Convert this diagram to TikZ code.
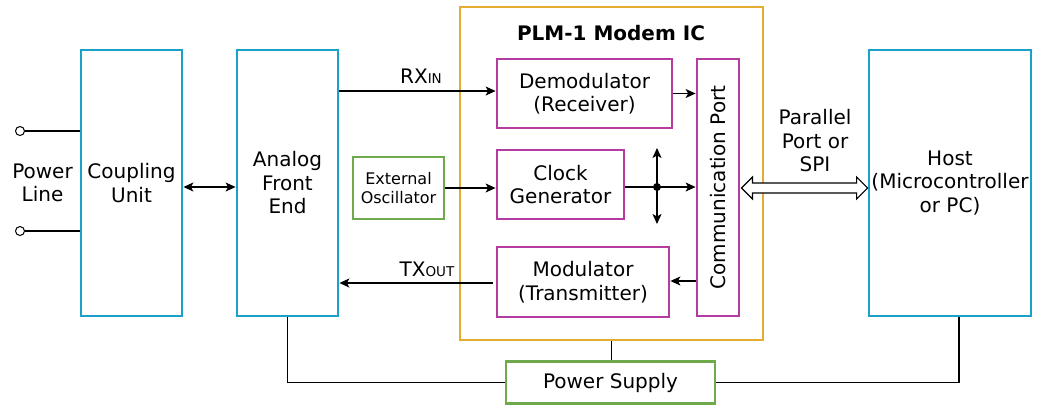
\documentclass[tikz,border=0pt]{standalone}
\usepackage{fontspec}
\setmainfont{DejaVu Sans}
\usetikzlibrary{arrows.meta,calc}
\definecolor{cblue}{RGB}{27,160,200}
\definecolor{corange}{RGB}{229,172,50}
\definecolor{cmag}{RGB}{180,60,160}
\definecolor{cgreen}{RGB}{110,170,75}
\newcommand\mainfnt{\fontsize{20}{23.5}\selectfont}
\newcommand\smallfnt{\fontsize{16}{19}\selectfont}
\newcommand\subfnt{\fontsize{13.5}{13.5}\selectfont}
\begin{document}
\begin{tikzpicture}[x=1pt,y=-1pt,
  blk/.style={draw=#1,line width=2.8pt,inner sep=0pt,align=center,font=\mainfnt},
  conn/.style={line width=1.2pt,draw=black},
  tip/.style={},
  arr/.style={conn,-{Stealth[length=10pt,width=9pt,inset=2.5pt]}},
  dblarr/.style={conn,{Stealth[length=10pt,width=9pt,inset=2.5pt]}-{Stealth[length=10pt,width=9pt,inset=2.5pt]}},
  term/.style={circle,draw,line width=1pt,minimum size=9pt,inner sep=0pt,fill=white},
  lbl/.style={font=\mainfnt,align=center,inner sep=0pt}]
\useasboundingbox (0,0) rectangle (1051,405);
% main blocks
\node[blk=cblue,minimum width=101,minimum height=266] (cu) at (131.5,183) {Coupling\\Unit};
\node[blk=cblue,minimum width=101,minimum height=266] (afe) at (287.5,183) {Analog\\Front\\End};
\node[blk=corange,minimum width=303,minimum height=333] (ic) at (611.5,173.5) {};
\node[font=\fontsize{20}{24}\selectfont\bfseries,inner sep=0pt] (title) at (611,33) {PLM-1 Modem IC};
\node[blk=cmag,minimum width=175,minimum height=69] (dem) at (584.5,93.5) {Demodulator\\(Receiver)};
\node[blk=cmag,minimum width=127,minimum height=69] (clk) at (560.5,184.5) {Clock\\Generator};
\node[blk=cmag,minimum width=172,minimum height=70] (mod) at (583,282) {Modulator\\(Transmitter)};
\node[blk=cmag,minimum width=42,minimum height=257] (cp) at (718,187.5) {\rotatebox{90}{Communication Port}};
\node[blk=cgreen,font=\smallfnt,minimum width=91,minimum height=62] (osc) at (398.5,188) {External\\Oscillator};
\node[blk=cblue,minimum width=162,minimum height=266] (host) at (950,183) {Host\\(Microcontroller\\or PC)};
\node[blk=cgreen,minimum width=209,minimum height=42] (ps) at (610.5,382.5) {Power Supply};
% power line
\node[term] (t1) at (20,131) {};
\node[term] (t2) at (20,231) {};
\draw[conn] (t1.east) -- (t1 -| cu.west);
\draw[conn] (t2.east) -- (t2 -| cu.west);
\node[lbl] (pl) at (42.5,183) {Power\\Line};
% connectors
\draw[dblarr] ([yshift=-4pt]cu.east) -- ([yshift=-4pt]afe.west);
\draw[arr] ([yshift=2.5pt]dem.west -| afe.east) -- ([yshift=2.5pt]dem.west);
\node[lbl,anchor=base] (rx) at (421,83) {RX{\subfnt IN}};
\draw[arr] (dem.east) -- (dem.east -| cp.west);
\draw[arr] (osc.east) -- (osc.east -| clk.west);
\coordinate (j) at ([yshift=-2.5pt]clk.east -| 657,0);
\coordinate (jt) at (657,148);
\coordinate (jb) at (657,224);
\draw[arr] ([yshift=-2.5pt]clk.east) -- (j -| cp.west);
\draw[dblarr] (jt) -- (jb);
\fill (j) circle (4pt);
\draw[arr] ([yshift=1pt]cp.west |- mod.east) -- ([yshift=1pt]mod.east);
\draw[arr] ([xshift=-3pt,yshift=-1pt]mod.west) -- ([yshift=-1pt]mod.west -| afe.east);
\node[lbl,anchor=base] (tx) at (427,276) {TX{\subfnt OUT}};
% parallel port hollow double arrow
\coordinate (pa) at ([xshift=1pt,yshift=-0.5pt]cp.east);
\coordinate (pb) at ([yshift=-0.5pt]cp.east -| host.west);
\draw[line width=1.2pt,fill=white] (pa) -- ++(11,-11) -- ++(0,6) -- ($(pb)+(-11,-5)$) -- ++(0,-6) -- (pb) -- ++(-11,11) -- ++(0,-6) -- ($(pa)+(11,5)$) -- ++(0,6) -- cycle;
\node[lbl] (pp) at (815,141) {Parallel\\Port or\\SPI};
% power supply
\draw[conn] (afe.south) |- (ps.west);
\draw[conn] (ic.south) -- (ic.south |- ps.north);
\draw[conn] (ps.east) -| ([xshift=9pt]host.south);
\end{tikzpicture}
\end{document}
